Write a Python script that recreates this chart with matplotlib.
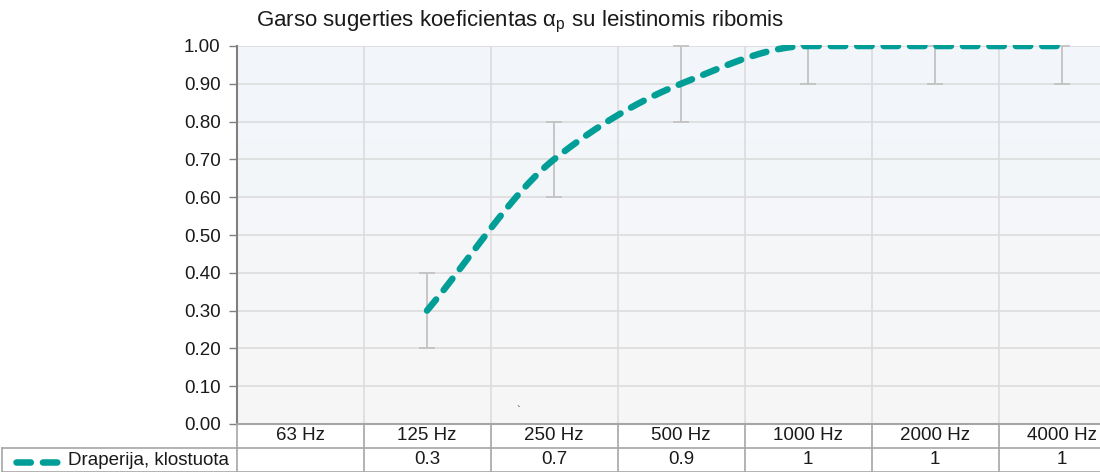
import numpy as np
import matplotlib
matplotlib.use("Agg")
import matplotlib.pyplot as plt
from matplotlib.lines import Line2D
from matplotlib.patches import Rectangle
from matplotlib.transforms import blended_transform_factory

plt.rcParams['font.family'] = ['Liberation Sans', 'DejaVu Sans']

categories = ["63 Hz", "125 Hz", "250 Hz", "500 Hz", "1000 Hz", "2000 Hz", "4000 Hz"]
series_name = "Draperija, klostuota"
values = [None, 0.3, 0.7, 0.9, 1.0, 1.0, 1.0]
value_labels = ["", "0.3", "0.7", "0.9", "1", "1", "1"]
lower = [None, 0.2, 0.6, 0.8, 0.9, 0.9, 0.9]
upper = [None, 0.4, 0.8, 1.0, 1.0, 1.0, 1.0]
yticks = [0.0, 0.1, 0.2, 0.3, 0.4, 0.5, 0.6, 0.7, 0.8, 0.9, 1.0]
title = "Garso sugerties koeficientas α$_\\mathregular{p}$ su leistinomis ribomis"

TEAL = "#009e97"
GRID = "#dcdcdc"
TXT = "#1a1a1a"
FS = 13.5
LW = 4.7
DASH = (2.2, 1.85)

W, H = 1100, 472
fig = plt.figure(figsize=(W / 100, H / 100), dpi=100)
left_px, right_px, top_px, bot_px = 236.5, 1125.5, 46, 424
ax = fig.add_axes([left_px / W, (H - bot_px) / H, (right_px - left_px) / W, (bot_px - top_px) / H])

n = len(categories)
ax.set_xlim(-0.5, n - 0.5)
ax.set_ylim(0, 1.0)

# background gradient
grad = np.linspace(0, 1, 256).reshape(-1, 1)
top_c = np.array([0xf2, 0xf6, 0xfb]) / 255
bot_c = np.array([0xf7, 0xf7, 0xf7]) / 255
img = bot_c[None, None, :] * (1 - grad[:, :, None]) + top_c[None, None, :] * grad[:, :, None]
ax.imshow(img, extent=[-0.5, n - 0.5, 0, 1], origin='lower', aspect='auto', zorder=0)

# grid
for yv in yticks[1:]:
    ax.axhline(yv, color=GRID, lw=1.2, zorder=1)
for i in range(n):
    ax.axvline(i + 0.5, color=GRID, lw=1.2, zorder=1)

for s in ['top', 'right']:
    ax.spines[s].set_visible(False)
ax.spines['left'].set_color('#808080')
ax.spines['left'].set_linewidth(1.5)
ax.spines['bottom'].set_color('#a6a6a6')
ax.spines['bottom'].set_linewidth(1.5)

ax.set_yticks(yticks)
ax.set_yticklabels([f"{v:.2f}" for v in yticks], fontsize=FS, color=TXT)
ax.tick_params(axis='y', length=5.5, width=1.0, color='#808080', pad=6)
ax.set_xticks([])

# error bars
xs = [i for i, v in enumerate(values) if v is not None]
ys = [values[i] for i in xs]
lo = [values[i] - lower[i] for i in xs]
hi = [upper[i] - values[i] for i in xs]
ax.errorbar(xs, ys, yerr=[lo, hi], fmt='none', ecolor='#c3c3c3', elinewidth=1.3,
            capsize=5.5, capthick=1.3, zorder=2, clip_on=False)

# monotone cubic (Fritsch-Carlson) smoothing of the connecting line
def pchip(x, y, num=60):
    x = np.asarray(x, float); y = np.asarray(y, float)
    h = np.diff(x); d = np.diff(y) / h
    m = np.zeros_like(y)
    m[0], m[-1] = d[0], d[-1]
    for k in range(1, len(y) - 1):
        if d[k - 1] * d[k] <= 0:
            m[k] = 0
        else:
            w1 = 2 * h[k] + h[k - 1]; w2 = h[k] + 2 * h[k - 1]
            m[k] = (w1 + w2) / (w1 / d[k - 1] + w2 / d[k])
    xo, yo = [], []
    for k in range(len(x) - 1):
        t = np.linspace(0, 1, num, endpoint=(k == len(x) - 2))
        h00 = 2 * t**3 - 3 * t**2 + 1; h10 = t**3 - 2 * t**2 + t
        h01 = -2 * t**3 + 3 * t**2; h11 = t**3 - t**2
        xo.append(x[k] + t * h[k])
        yo.append(h00 * y[k] + h10 * h[k] * m[k] + h01 * y[k + 1] + h11 * h[k] * m[k + 1])
    return np.concatenate(xo), np.concatenate(yo)

sx, sy = pchip(xs, ys)
line, = ax.plot(sx, sy, color=TEAL, lw=LW, dash_capstyle='round', zorder=3)
line.set_dashes(DASH)
clip = Rectangle((0, 0), 1, 1 + 1.5 / (bot_px - top_px), transform=ax.transAxes, visible=False)
ax.add_patch(clip)
line.set_clip_path(clip)

# small artifact mark
ax.text(1.72, 0.035, "`", fontsize=8, color='#333333', ha='center', va='center')

# title
fig.text(256 / W, 1 - 22 / H, title, fontsize=16, ha='left', va='center', color=TXT)

# table below the axes
tr = blended_transform_factory(ax.transData, ax.transAxes)
rh = 24 / (bot_px - top_px)
tcol = '#a6a6a6'
for i in range(n + 1):
    ax.add_line(Line2D([i - 0.5, i - 0.5], [0, -2 * rh], transform=tr, color=tcol, lw=1.2, clip_on=False))
ax.add_line(Line2D([-0.5, n - 0.5], [-rh, -rh], transform=tr, color=tcol, lw=1.2, clip_on=False))
ax.add_line(Line2D([-0.5, n - 0.5], [-2 * rh, -2 * rh], transform=tr, color=tcol, lw=1.2, clip_on=False))
for i, c in enumerate(categories):
    ax.text(i, -rh / 2, c, transform=tr, ha='center', va='center', fontsize=FS, color=TXT, clip_on=False)
    ax.text(i, -1.5 * rh, value_labels[i], transform=tr, ha='center', va='center', fontsize=FS, color=TXT, clip_on=False)

# legend cell
fy_top = (H - 448) / H
fy_bot = 0.5 / H
fx0 = 2 / W
fx1 = left_px / W
for xa, ya in [([fx0, fx1], [fy_top, fy_top]), ([fx0, fx1], [fy_bot, fy_bot]), ([fx0, fx0], [fy_bot, fy_top])]:
    fig.add_artist(Line2D(xa, ya, transform=fig.transFigure, color=tcol, lw=1.2))
ly = (H - 461.5) / H
leg = Line2D([15.5 / W, 56.5 / W], [ly, ly], transform=fig.transFigure, color=TEAL, lw=LW,
             dash_capstyle='round')
leg.set_dashes(DASH)
fig.add_artist(leg)
fig.text(68 / W, (H - 460.5) / H, series_name, fontsize=FS, ha='left', va='center', color=TXT)

fig.savefig("out.png", dpi=100)
